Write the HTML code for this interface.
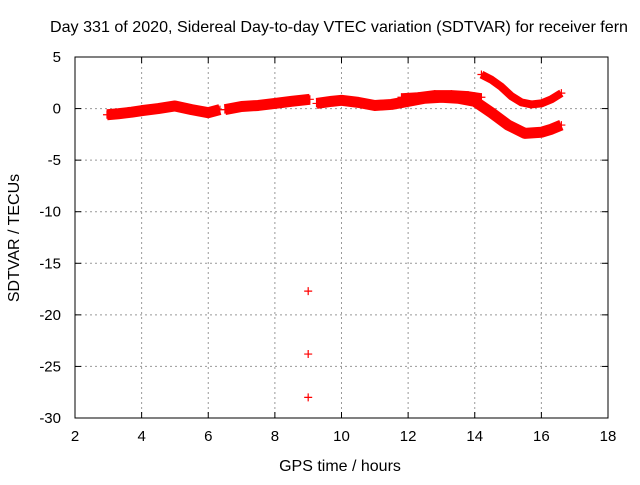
<!DOCTYPE html>
<html><head><meta charset="utf-8"><style>
body{margin:0;background:#fff;}
svg text{font-family:"Liberation Sans",sans-serif;font-size:15px;fill:#000;}
svg text.big{font-size:16px;}
</style></head><body>
<svg id="chart" width="640" height="480" xmlns="http://www.w3.org/2000/svg">
<text class="big" x="339" y="32" text-anchor="middle" textLength="578" lengthAdjust="spacingAndGlyphs">Day 331 of 2020, Sidereal Day-to-day VTEC variation (SDTVAR) for receiver fern</text>
<g id="grid"></g>
<g id="axes"></g>
<g id="series"></g>
<text class="big" x="340" y="471" text-anchor="middle">GPS time / hours</text>
<text class="big" transform="translate(19,238) rotate(-90)" text-anchor="middle">SDTVAR / TECUs</text>
</svg>
<script>
const xTicks=[2,4,6,8,10,12,14,16,18];
const yTicks=[5,0,-5,-10,-15,-20,-25,-30];
const seg1Hours=[2.96,3.3,3.7,4.0,4.5,5.0,5.5,6.0,6.35];
const seg1Vals=[-0.6,-0.5,-0.35,-0.2,0.0,0.25,-0.1,-0.4,-0.1];
const seg2Hours=[6.5,7.0,7.5,8.0,8.5,9.05];
const seg2Vals=[-0.1,0.2,0.3,0.5,0.7,0.9];
const seg3Hours=[9.25,9.7,10.0,10.5,11.0,11.5,12.0,12.5,13.0,13.5,14.0,14.5,15.0,15.5,16.0,16.3,16.6];
const seg3Vals=[0.5,0.7,0.8,0.6,0.3,0.4,0.7,1.0,1.1,1.0,0.7,-0.4,-1.6,-2.4,-2.3,-2.0,-1.6];
const seg4Hours=[11.8,12.3,12.8,13.3,13.8,14.2];
const seg4Vals=[1.1,1.2,1.4,1.4,1.3,1.1];
const seg5Hours=[14.2,14.5,14.8,15.1,15.4,15.7,16.0,16.3,16.6];
const seg5Vals=[3.3,2.8,2.1,1.2,0.6,0.4,0.5,0.9,1.5];
const outHours=[9,9,9];
const outVals=[-17.7,-23.8,-28];
const X=h=>75+(h-2)*(533/16);
const Y=v=>57+(5-v)*(361/35);
const NS="http://www.w3.org/2000/svg";
function mk(t,a,p){const e=document.createElementNS(NS,t);for(const k in a)e.setAttribute(k,a[k]);p.appendChild(e);return e;}
const grid=document.getElementById('grid'),axes=document.getElementById('axes'),ser=document.getElementById('series');
xTicks.forEach(t=>{
 if(t>2&&t<18){const l=mk('line',{x1:X(t),x2:X(t),y1:57,y2:418,stroke:'#999','stroke-dasharray':'2,3'},grid);
 
 }
 mk('line',{x1:X(t),x2:X(t),y1:418,y2:412,stroke:'#000'},axes);
 mk('line',{x1:X(t),x2:X(t),y1:57,y2:63,stroke:'#000'},axes);
 const tx=mk('text',{x:X(t),y:441,'text-anchor':'middle'},axes);tx.textContent=t;
 
 
});
yTicks.forEach(t=>{
 if(t<5&&t>-30){const l=mk('line',{x1:75,x2:608,y1:Y(t),y2:Y(t),stroke:'#999','stroke-dasharray':'2,3'},grid);
 
 }
 mk('line',{x1:75,x2:81,y1:Y(t),y2:Y(t),stroke:'#000'},axes);
 mk('line',{x1:608,x2:602,y1:Y(t),y2:Y(t),stroke:'#000'},axes);
 const tx=mk('text',{x:61,y:Y(t)+5,'text-anchor':'end'},axes);tx.textContent=t;
 
 
});
const fr=mk('rect',{x:75,y:57,width:533,height:361,fill:'none',stroke:'#000'},axes);


function band(hs,vs,w){
 const pl=mk('polyline',{points:hs.map((h,i)=>X(h)+','+Y(vs[i])).join(' '),fill:'none',stroke:'#f00','stroke-width':w,'stroke-linejoin':'round','stroke-linecap':'butt'},ser);
 
 
 hs.forEach((h,i)=>plus(h,vs[i]));
}
function plus(h,v){
 const x=X(h),y=Y(v);
 const p=mk('path',{d:`M${x-4},${y}h8M${x},${y-4}v8`,stroke:'#f00','stroke-width':1.2},ser);
 
 
}
band(seg1Hours,seg1Vals,11);
band(seg2Hours,seg2Vals,11);
band(seg3Hours,seg3Vals,11);
band(seg4Hours,seg4Vals,8);
band(seg5Hours,seg5Vals,8);
outHours.forEach((h,i)=>plus(h,outVals[i]));
</script>
</body></html>
